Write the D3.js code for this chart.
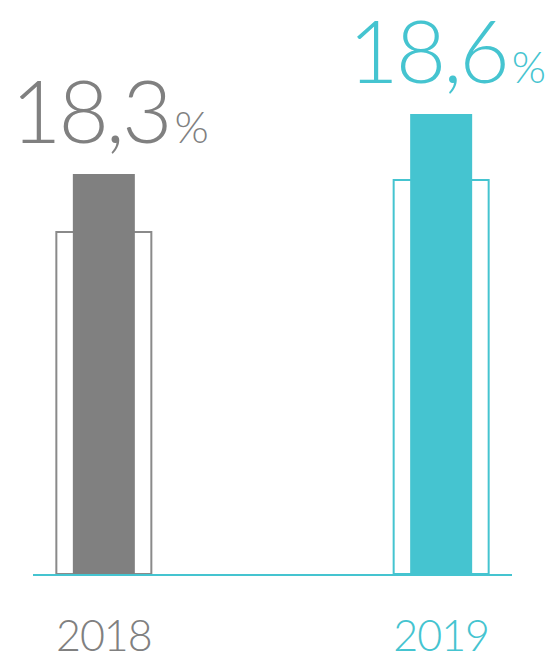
<!DOCTYPE html>
<head>
<meta charset="utf-8">
<script src="https://d3js.org/d3.v7.min.js"></script>
<style>
body { margin: 0; background: #fff; }
text { font-family: Lato, "Open Sans", sans-serif; font-weight: 300; }
</style>
</head>
<body>
<script>
// data
var years = ["2018", "2019"];
var current = [18.3, 18.6];      // filled bars
var previous = [18.01, 18.27];   // outlined bars
var labels = ["18,3", "18,6"];
var colors = ["#808080", "#45c4d0"];
var outlineColors = ["#8a8a8a", "#45c4d0"];

var width = 551, height = 655;
var baseY = 574;

var svg = d3.select("body").append("svg")
    .attr("width", width)
    .attr("height", height);

var x = d3.scalePoint()
    .domain(years)
    .range([33, 512])
    .padding(0.21);

// truncated value axis
var y = d3.scaleLinear()
    .domain([16.3, 19.0])
    .range([baseY, 34]);

var data = years.map(function(yr, i) {
    return { year: yr, cur: current[i], prev: previous[i], label: labels[i],
             color: colors[i], outline: outlineColors[i] };
});

var outerW = 95, innerW = 62;

svg.selectAll(".prev")
    .data(data)
    .enter().append("rect")
    .attr("class", "prev")
    .attr("x", function(d) { return x(d.year) - outerW / 2; })
    .attr("y", function(d) { return y(d.prev); })
    .attr("width", outerW)
    .attr("height", function(d) { return baseY - y(d.prev); })
    .attr("fill", "none")
    .attr("stroke", function(d) { return d.outline; })
    .attr("stroke-width", 2);

svg.selectAll(".cur")
    .data(data)
    .enter().append("rect")
    .attr("class", "cur")
    .attr("x", function(d) { return x(d.year) - innerW / 2; })
    .attr("y", function(d) { return y(d.cur); })
    .attr("width", innerW)
    .attr("height", function(d) { return baseY - y(d.cur); })
    .attr("fill", function(d) { return d.color; });

// baseline
svg.append("line")
    .attr("x1", 33)
    .attr("x2", 512)
    .attr("y1", baseY + 1)
    .attr("y2", baseY + 1)
    .attr("stroke", "#45c4d0")
    .attr("stroke-width", 2);

// value labels
var vl = svg.selectAll(".value")
    .data(data)
    .enter().append("text")
    .attr("class", "value")
    .attr("x", function(d) { return x(d.year) + 6; })
    .attr("y", function(d) { return y(d.cur) - 31; })
    .attr("text-anchor", "middle")
    .attr("fill", function(d) { return d.color; })
    .style("font-size", "87px");

vl.append("tspan")
    .style("letter-spacing", "-3px")
    .text(function(d) { return d.label; });
vl.append("tspan")
    .attr("dx", 5)
    .style("font-size", "44px")
    .text("%");

// year labels
svg.selectAll(".year")
    .data(data)
    .enter().append("text")
    .attr("class", "year")
    .attr("x", function(d) { return x(d.year); })
    .attr("y", 651)
    .attr("text-anchor", "middle")
    .attr("fill", function(d) { return d.color; })
    .style("font-size", "43px")
    .style("letter-spacing", "-1px")
    .text(function(d) { return d.year; });
</script>
</body>
